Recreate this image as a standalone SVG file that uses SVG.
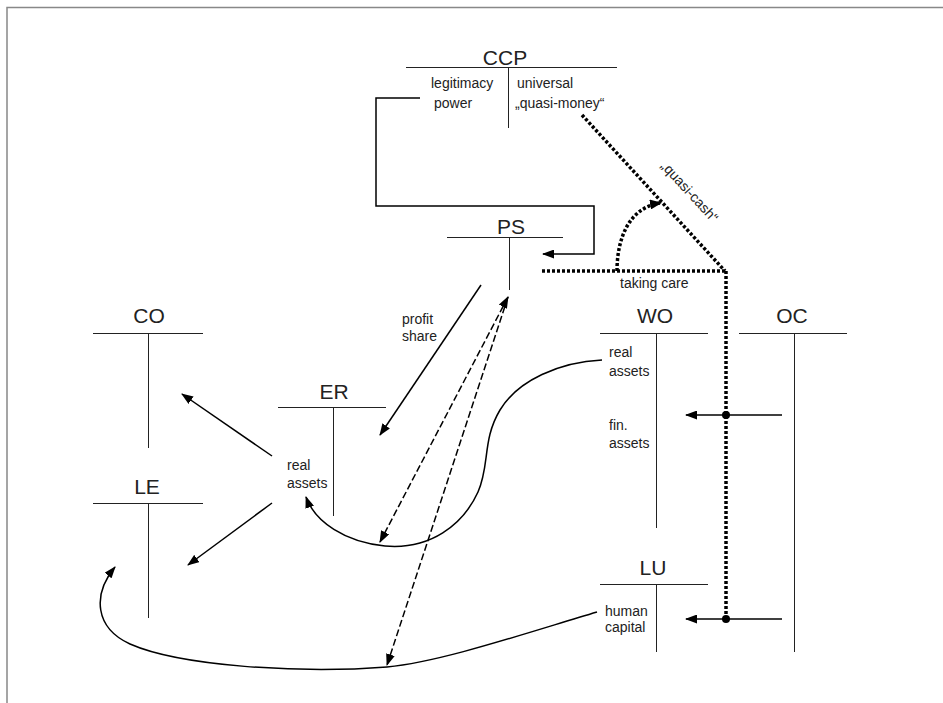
<svg xmlns="http://www.w3.org/2000/svg" width="943" height="703" viewBox="0 0 943 703">
<defs>
<style>
text{font-family:"Liberation Sans",Arial,sans-serif;fill:#222}
.t{font-size:21px;text-anchor:middle}
.l{font-size:14px}
.n{stroke:#222;stroke-width:1;fill:none}
.c{stroke:#000;stroke-width:1.5;fill:none}
.d{stroke:#000;stroke-width:1.5;fill:none;stroke-dasharray:7 3}
.q{stroke:#000;stroke-width:3.5;fill:none;stroke-dasharray:3 2}
</style>
<marker id="a" markerUnits="userSpaceOnUse" markerWidth="12" markerHeight="9" refX="11" refY="4.5" orient="auto-start-reverse" viewBox="0 0 12 9"><path d="M0,0 L12,4.5 L0,9 Z" fill="#000"/></marker>
<marker id="b" markerUnits="userSpaceOnUse" markerWidth="12" markerHeight="10" refX="10" refY="5" orient="auto" viewBox="0 0 12 10"><path d="M0,0 L12,5 L0,10 Z" fill="#000"/></marker>
</defs>
<rect width="943" height="703" fill="#fff"/>
<path d="M7,703 V7.5 H943" stroke="#888" stroke-width="1.5" fill="none"/>

<g id="CCP"><text class="t" x="505" y="65">CCP</text><path class="n" d="M406,67.5 H617 M508.5,68 V128"/>
<text class="l" x="431" y="88">legitimacy</text><text class="l" x="434" y="108">power</text>
<text class="l" x="517" y="88">universal</text><text class="l" x="515" y="108">„quasi-money“</text></g>
<g id="PS"><text class="t" x="511" y="234">PS</text><path class="n" d="M447,237.5 H563 M509.5,238 V290"/></g>
<g id="CO"><text class="t" x="149" y="323">CO</text><path class="n" d="M93,333.5 H203 M148.5,333 V448"/></g>
<g id="LE"><text class="t" x="147" y="494">LE</text><path class="n" d="M93,503.5 H203 M148.5,503 V618"/></g>
<g id="ER"><text class="t" x="334" y="399">ER</text><path class="n" d="M278,407.5 H386 M333.5,407 V516"/>
<text class="l" x="287" y="470">real</text><text class="l" x="287" y="488">assets</text></g>
<g id="WO"><text class="t" x="655" y="323">WO</text><path class="n" d="M600,333.5 H708 M656.5,333 V528"/>
<text class="l" x="609" y="357">real</text><text class="l" x="609" y="376">assets</text>
<text class="l" x="609" y="430">fin.</text><text class="l" x="609" y="448">assets</text></g>
<g id="OC"><text class="t" x="792" y="323">OC</text><path class="n" d="M739,333.5 H847 M794.5,333 V652"/></g>
<g id="LU"><text class="t" x="653" y="575">LU</text><path class="n" d="M600,584.5 H708 M656.5,584 V652"/>
<text class="l" x="605" y="616">human</text><text class="l" x="605" y="632">capital</text></g>

<g id="connectors">
<path class="c" stroke-width="2" d="M420,98 H376 V206 H594 V254 H543" marker-end="url(#a)"/>
<path class="q" d="M582,115 L725,271 M542,271 H726 M726,271 V619"/>
<path class="q" d="M617,271 C617,240 628,208 660,203" marker-end="url(#b)"/>
<text class="l" transform="translate(689,192) rotate(47.5)" text-anchor="middle" y="4">„quasi-cash“</text>
<text class="l" x="620" y="288">taking care</text>
<path class="c" d="M782,415 H686" marker-end="url(#a)"/>
<path class="c" d="M782,619 H686" marker-end="url(#a)"/>
<circle cx="726" cy="415" r="4" fill="#000"/>
<circle cx="726" cy="619" r="4" fill="#000"/>
<path class="c" d="M481,285 L380,435" marker-end="url(#a)"/>
<text class="l" x="402" y="324">profit</text><text class="l" x="402" y="341">share</text>
<path class="d" d="M508,297 L380,542" marker-start="url(#a)" marker-end="url(#a)"/>
<path class="d" d="M508,297 L387,665" marker-end="url(#a)"/>
<path class="c" d="M272,456 L182,394" marker-end="url(#a)"/>
<path class="c" d="M272,503 L188,565" marker-end="url(#a)"/>
<path class="c" d="M602,360 C560,362 518,380 500,410 C482,440 490,465 478,492 C463,525 430,550 385,546 C345,542 315,522 306,497" marker-end="url(#a)"/>
<path class="c" stroke="#444" stroke-width="1.2" d="M597,612 C520,635 440,662 387,667 C300,674 180,666 130,644 C95,628 92,595 115,567" marker-end="url(#a)"/>
</g>
</svg>
